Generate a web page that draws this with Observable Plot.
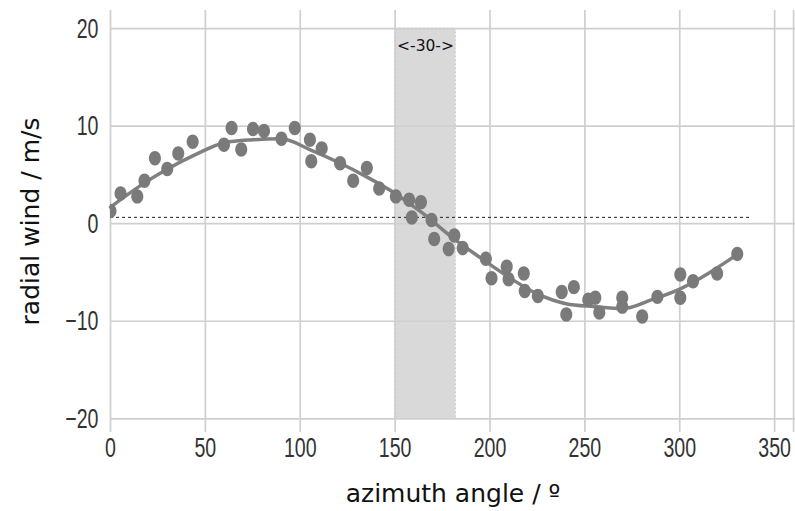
<!DOCTYPE html>
<html>
<head>
<meta charset="utf-8">
<script src="https://cdn.jsdelivr.net/npm/d3@7"></script>
<script src="https://cdn.jsdelivr.net/npm/@observablehq/plot@0.6"></script>
<style>
  html, body { margin: 0; padding: 0; background: #fff; }
  #chart { width: 795px; height: 511px; }
</style>
</head>
<body>
<div id="chart"></div>
<script>
// Observations: azimuth angle (deg) and radial wind (m/s)
const azimuth = [0, 5.3, 14.1, 17.9, 23.4, 29.9, 35.7, 43.3, 59.8, 63.8, 68.9, 75.1, 80.9, 90.1, 97.1,
  105.1, 105.8, 111.3, 121, 127.9, 135.1, 141.6, 150.4, 157.4, 163.6, 158.8, 169.2, 170.6, 181.2,
  178.2, 185.6, 197.8, 200.8, 208.8, 209.8, 217.8, 218.3, 225.2, 237.8, 244.2, 240.2, 251.8,
  255.5, 257.6, 269.7, 269.7, 280.2, 288.2, 300.3, 300.3, 307, 319.7, 330.3];
const radialWind = [1.3, 3.1, 2.8, 4.4, 6.7, 5.6, 7.2, 8.4, 8.1, 9.8, 7.6, 9.7, 9.5, 8.7, 9.8,
  8.6, 6.4, 7.7, 6.2, 4.4, 5.7, 3.6, 2.8, 2.45, 2.2, 0.64, 0.37, -1.56, -1.22,
  -2.6, -2.5, -3.6, -5.6, -4.4, -5.7, -5.1, -6.9, -7.4, -7.0, -6.5, -9.3, -7.8,
  -7.6, -9.1, -7.6, -8.5, -9.5, -7.5, -5.2, -7.6, -5.9, -5.1, -3.1];

// Fitted curve
const fitAzimuth = [0, 15, 30, 45, 60, 75, 90, 105, 120, 135, 150, 165, 180, 195, 210, 225, 240, 255, 270, 285, 300, 315, 330];
const fitWind = [1.7, 3.8, 5.6, 7.1, 8.3, 8.6, 8.7, 7.6, 6.3, 4.8, 3.1, 1.0, -1.4, -3.5, -5.5, -7.2, -8.2, -8.5, -8.7, -7.8, -6.7, -5.1, -3.2];

// Mean wind (dashed reference line)
const meanWind = [0.65];
const meanSpan = [0, 337];

// Highlighted sector
const sectorStart = [150];
const sectorEnd = [182];
const sectorLow = [-20];
const sectorHigh = [20];
const sectorLabel = ["<-30->"];
const sectorLabelY = [18.2];

// Ticks
const xTicks = [0, 50, 100, 150, 200, 250, 300, 350];
const xGrid = [0, 50, 100, 150, 200, 250, 300, 350, 360];
const yTicks = [-20, -10, 0, 10, 20];

const xLabel = "azimuth angle / º";
const yLabel = "radial wind / m/s";

const points = azimuth.map((a, i) => ({a, v: radialWind[i]}));
const fit = fitAzimuth.map((a, i) => ({a, v: fitWind[i]}));
const sector = sectorStart.map((s, i) => ({x1: s, x2: sectorEnd[i], y1: sectorLow[i], y2: sectorHigh[i], label: sectorLabel[i], ly: sectorLabelY[i]}));
const mean = meanWind.map(m => ({y: m, x1: meanSpan[0], x2: meanSpan[1]}));

const tickFont = "'Liberation Sans', Arial, sans-serif";
const labelFont = "'DejaVu Sans', sans-serif";
const gray = "#808080";
const gridColor = "#cfcfcf";

// slightly tall elliptical marker
const ellipse = {
  draw(ctx, size) {
    const r = Math.sqrt(size / Math.PI), rx = r * 0.9, ry = r * 1.08, k = 0.5523;
    ctx.moveTo(rx, 0);
    ctx.bezierCurveTo(rx, k * ry, k * rx, ry, 0, ry);
    ctx.bezierCurveTo(-k * rx, ry, -rx, k * ry, -rx, 0);
    ctx.bezierCurveTo(-rx, -k * ry, -k * rx, -ry, 0, -ry);
    ctx.bezierCurveTo(k * rx, -ry, rx, -k * ry, rx, 0);
    ctx.closePath();
  }
};

const chart = Plot.plot({
  width: 795,
  height: 511,
  marginLeft: 110,
  marginRight: 0,
  marginTop: 10,
  marginBottom: 79,
  style: {background: "#fff", overflow: "visible"},
  x: {domain: [0, 361]},
  y: {domain: [-21.4, 21.85]},
  marks: [
    Plot.rect(sector, {x1: "x1", x2: "x2", y1: "y1", y2: "y2", fill: "#d9d9d9", stroke: "#cccccc", strokeDasharray: "2,2", strokeWidth: 1}),
    Plot.gridX(xGrid, {stroke: gridColor, strokeOpacity: 1, strokeWidth: 1.7}),
    Plot.gridY(yTicks, {stroke: gridColor, strokeOpacity: 1, strokeWidth: 1.7}),
    Plot.axisX(xTicks, {tickSize: 0, tickPadding: 5, fontSize: 28, fontFamily: tickFont, fill: "#333", label: null}),
    Plot.axisY(yTicks, {tickSize: 0, tickPadding: 12, fontSize: 28, fontFamily: tickFont, fill: "#333", label: null}),
    Plot.ruleY(mean, {y: "y", x1: "x1", x2: "x2", stroke: "#222", strokeWidth: 1, strokeDasharray: "3,3"}),
    Plot.text(sector, {x: d => (d.x1 + d.x2) / 2, y: "ly", text: "label", fontSize: 15.5, fontFamily: labelFont, fill: "#111"}),
    Plot.line(fit, {x: "a", y: "v", stroke: gray, strokeWidth: 3.5, curve: "monotone-x"}),
    Plot.dot(points, {x: "a", y: "v", r: 6.7, symbol: ellipse, fill: "#7a7a7a", stroke: "none", clip: true}),
    Plot.text([xLabel], {frameAnchor: "bottom", dy: 61, lineAnchor: "middle", textAnchor: "middle", text: d => d, fontSize: 25, fontFamily: labelFont, fill: "#111"}),
    Plot.text([yLabel], {frameAnchor: "left", dx: -80, rotate: -90, textAnchor: "middle", lineAnchor: "middle", text: d => d, fontSize: 25, fontFamily: labelFont, fill: "#111"})
  ]
});

// Condense the tick labels horizontally (narrow face of the reference)
chart.querySelectorAll('g[aria-label="x-axis tick label"] text, g[aria-label="y-axis tick label"] text').forEach(t => {
  let tr = t.getAttribute("transform");
  if (!tr) {
    const x = +(t.getAttribute("x") || 0), y = +(t.getAttribute("y") || 0);
    t.removeAttribute("x"); t.removeAttribute("y");
    tr = `translate(${x},${y})`;
  }
  t.setAttribute("transform", tr + " scale(0.7,1)");
});

document.getElementById("chart").appendChild(chart);
</script>
</body>
</html>
